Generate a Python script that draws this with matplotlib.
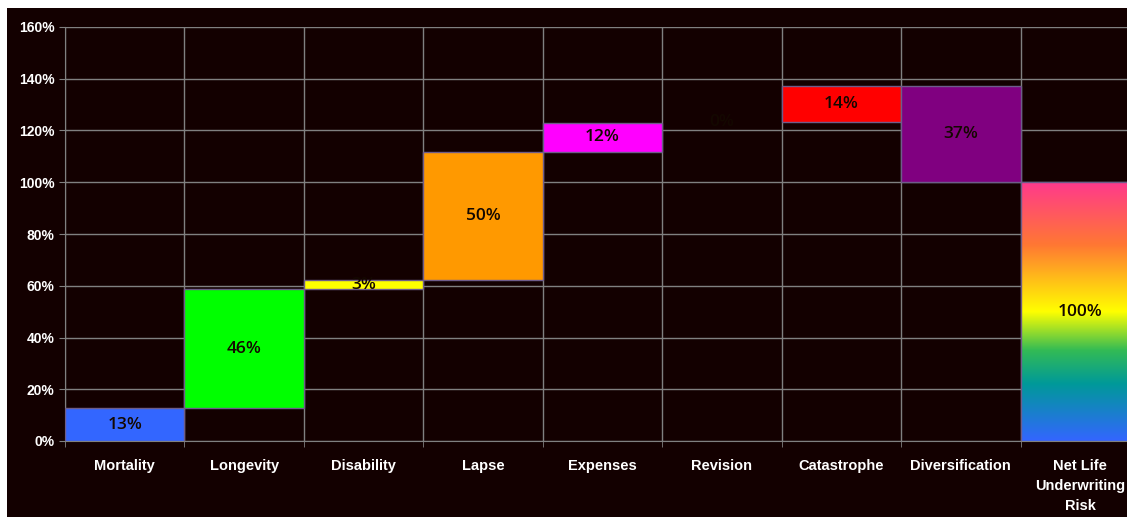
import numpy as np
import matplotlib
import matplotlib.pyplot as plt
from matplotlib.colors import LinearSegmentedColormap
from matplotlib.patches import Rectangle
matplotlib.use('Agg')

# data (percent)
categories = ['Mortality', 'Longevity', 'Disability', 'Lapse', 'Expenses',
              'Revision', 'Catastrophe', 'Diversification',
              'Net Life\nUnderwriting\nRisk']
changes = [12.6, 46.1, 3.5, 49.5, 11.3, 0.2, 14.0, -37.2]
total = 100.0
labels = ['13%', '46%', '3%', '50%', '12%', '0%', '14%', '37%', '100%']
bar_colors = ['#3366ff', '#00ff00', '#ffff00', '#ff9900', '#ff00ff',
              '#140000', '#ff0000', '#800080']
y_ticks = [0, 20, 40, 60, 80, 100, 120, 140, 160]

BG = '#130000'
GRID = '#808080'
EDGE = '#6e5c8a'

fig = plt.figure(figsize=(11.27, 5.17), dpi=100, facecolor='white')
fig.patches.append(Rectangle((7 / 1127, 0), 1, 1 - 8 / 517,
                             transform=fig.transFigure, facecolor=BG,
                             edgecolor='none', zorder=-10))
ax = fig.add_axes([65 / 1127, 76 / 517, 1075 / 1127, 414 / 517])
ax.set_facecolor(BG)

# waterfall bars
bottoms = []
level = 0.0
for i, d in enumerate(changes):
    lo = min(level, level + d)
    bottoms.append(lo)
    if i != 5:
        ax.bar(i, abs(d), bottom=lo, width=1.0, color=bar_colors[i],
               edgecolor=EDGE, linewidth=1, zorder=3)
    level += d

# net total with gradient fill
n = len(categories) - 1
grad = LinearSegmentedColormap.from_list('net', [
    (0.0, '#3366ff'), (0.22, '#009999'), (0.35, '#33bb55'), (0.5, '#ffff00'),
    (0.76, '#ff7733'), (1.0, '#ff3a8c')])
img = np.linspace(0, 1, 256).reshape(-1, 1)
ax.imshow(img, cmap=grad, origin='lower', aspect='auto',
          extent=(n - 0.5, n + 0.5, 0, total), zorder=3)
ax.add_patch(Rectangle((n - 0.5, 0), 1, total, facecolor='none',
                       edgecolor=EDGE, linewidth=1, zorder=4))

# value labels
for i in range(len(categories)):
    if i < n:
        yc = bottoms[i] + abs(changes[i]) / 2
    else:
        yc = total / 2
    ax.text(i, yc, labels[i], ha='center', va='center', fontsize=12.5,
            color='#140800', family='Open Sans', weight='semibold', zorder=5)

ax.set_xlim(-0.5, n + 0.5)
ax.set_ylim(0, 160)
ax.set_yticks(y_ticks)
ax.set_yticklabels([f'{v}%' for v in y_ticks])
ax.set_xticks(range(len(categories)))
ax.set_xticklabels(categories, linespacing=1.55)
ax.set_xticks(np.arange(-0.5, n + 1, 1), minor=True)

ax.grid(axis='y', color=GRID, linewidth=1, zorder=1)
ax.grid(axis='x', which='minor', color=GRID, linewidth=1, zorder=1)
ax.tick_params(axis='x', which='major', length=0, pad=13,
               colors='white', labelsize=10.5)
ax.tick_params(axis='x', which='minor', length=4, color=GRID)
ax.tick_params(axis='y', length=4, color=GRID, colors='white', labelsize=10)
for lab in ax.get_xticklabels() + ax.get_yticklabels():
    lab.set_fontweight('bold')
    lab.set_family('Liberation Sans')
for s in ['top', 'right']:
    ax.spines[s].set_visible(False)
for s in ['left', 'bottom']:
    ax.spines[s].set_color(GRID)

fig.savefig('out.png', dpi=100, facecolor=fig.get_facecolor())
